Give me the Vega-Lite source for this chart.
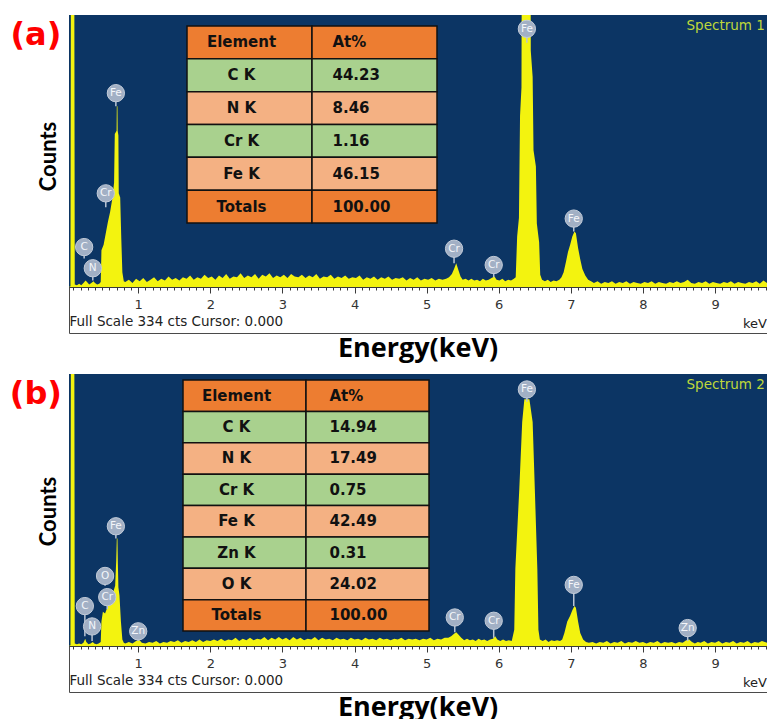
{
  "$schema": "https://vega.github.io/schema/vega-lite/v6.json",
  "padding": {"left": 9, "top": 14, "right": 0, "bottom": 0},
  "background": "white",
  "config": {
    "view": {"stroke": "#4a4a4a", "strokeWidth": 1, "fill": "white"},
    "concat": {"spacing": 10}
  },
  "datasets": {
    "spectrum1": [
      {"keV":0.04,"counts":0},{"keV":0.06,"counts":1},{"keV":0.07,"counts":600},{"keV":0.11,"counts":600},{"keV":0.12,"counts":3},
      {"keV":0.15,"counts":2},{"keV":0.18,"counts":4},{"keV":0.21,"counts":2},{"keV":0.24,"counts":5},{"keV":0.27,"counts":8},
      {"keV":0.29,"counts":6},{"keV":0.32,"counts":3},{"keV":0.35,"counts":5},{"keV":0.38,"counts":7},{"keV":0.40,"counts":5},
      {"keV":0.43,"counts":3},{"keV":0.46,"counts":4},{"keV":0.48,"counts":6},{"keV":0.49,"counts":45},{"keV":0.52,"counts":52},
      {"keV":0.55,"counts":66},{"keV":0.58,"counts":80},{"keV":0.61,"counts":92},{"keV":0.64,"counts":108},{"keV":0.665,"counts":128},
      {"keV":0.675,"counts":188},{"keV":0.70,"counts":192},{"keV":0.703,"counts":222},{"keV":0.712,"counts":222},{"keV":0.715,"counts":192},
      {"keV":0.725,"counts":186},{"keV":0.73,"counts":115},{"keV":0.75,"counts":110},{"keV":0.765,"counts":60},{"keV":0.78,"counts":18},
      {"keV":0.80,"counts":7},
      {"keV":0.82,"counts":6},{"keV":0.87,"counts":9},{"keV":0.92,"counts":5},{"keV":0.97,"counts":10},{"keV":1.02,"counts":7},
      {"keV":1.07,"counts":11},{"keV":1.12,"counts":6},{"keV":1.17,"counts":9},{"keV":1.22,"counts":12},{"keV":1.27,"counts":7},
      {"keV":1.32,"counts":10},{"keV":1.37,"counts":8},{"keV":1.42,"counts":13},{"keV":1.47,"counts":9},{"keV":1.52,"counts":11},
      {"keV":1.57,"counts":8},{"keV":1.62,"counts":12},{"keV":1.67,"counts":10},{"keV":1.72,"counts":14},{"keV":1.77,"counts":9},
      {"keV":1.82,"counts":12},{"keV":1.87,"counts":10},{"keV":1.92,"counts":15},{"keV":1.97,"counts":11},{"keV":2.02,"counts":13},
      {"keV":2.07,"counts":9},{"keV":2.12,"counts":14},{"keV":2.17,"counts":11},{"keV":2.22,"counts":16},{"keV":2.27,"counts":10},
      {"keV":2.32,"counts":13},{"keV":2.37,"counts":12},{"keV":2.42,"counts":17},{"keV":2.47,"counts":11},{"keV":2.52,"counts":14},
      {"keV":2.57,"counts":12},{"keV":2.62,"counts":16},{"keV":2.67,"counts":10},{"keV":2.72,"counts":15},{"keV":2.77,"counts":13},
      {"keV":2.82,"counts":17},{"keV":2.87,"counts":11},{"keV":2.92,"counts":14},{"keV":2.97,"counts":12},{"keV":3.02,"counts":15},
      {"keV":3.07,"counts":11},{"keV":3.12,"counts":16},{"keV":3.17,"counts":13},{"keV":3.22,"counts":12},{"keV":3.27,"counts":15},
      {"keV":3.32,"counts":11},{"keV":3.37,"counts":14},{"keV":3.42,"counts":12},{"keV":3.47,"counts":16},{"keV":3.52,"counts":10},
      {"keV":3.57,"counts":13},{"keV":3.62,"counts":12},{"keV":3.67,"counts":15},{"keV":3.72,"counts":10},{"keV":3.77,"counts":13},
      {"keV":3.82,"counts":11},{"keV":3.87,"counts":14},{"keV":3.92,"counts":10},{"keV":3.97,"counts":12},{"keV":4.02,"counts":11},
      {"keV":4.07,"counts":14},{"keV":4.12,"counts":9},{"keV":4.17,"counts":12},{"keV":4.22,"counts":10},{"keV":4.27,"counts":13},
      {"keV":4.32,"counts":9},{"keV":4.37,"counts":12},{"keV":4.42,"counts":10},{"keV":4.47,"counts":13},{"keV":4.52,"counts":9},
      {"keV":4.57,"counts":11},{"keV":4.62,"counts":10},{"keV":4.67,"counts":12},{"keV":4.72,"counts":8},{"keV":4.77,"counts":11},
      {"keV":4.82,"counts":9},{"keV":4.87,"counts":12},{"keV":4.92,"counts":8},{"keV":4.97,"counts":10},{"keV":5.02,"counts":9},
      {"keV":5.07,"counts":11},{"keV":5.12,"counts":8},{"keV":5.17,"counts":10},{"keV":5.22,"counts":9},
      {"keV":5.27,"counts":10},{"keV":5.31,"counts":12},{"keV":5.35,"counts":16},{"keV":5.38,"counts":22},{"keV":5.41,"counts":29},
      {"keV":5.44,"counts":21},{"keV":5.47,"counts":13},{"keV":5.50,"counts":9},{"keV":5.54,"counts":10},{"keV":5.58,"counts":8},
      {"keV":5.62,"counts":10},{"keV":5.66,"counts":8},{"keV":5.70,"counts":9},{"keV":5.74,"counts":7},{"keV":5.78,"counts":10},
      {"keV":5.82,"counts":8},{"keV":5.86,"counts":9},{"keV":5.90,"counts":11},{"keV":5.94,"counts":13},{"keV":5.97,"counts":9},
      {"keV":6.01,"counts":8},{"keV":6.05,"counts":10},{"keV":6.09,"counts":7},{"keV":6.13,"counts":9},{"keV":6.17,"counts":8},
      {"keV":6.21,"counts":10},{"keV":6.235,"counts":12},{"keV":6.255,"counts":62},{"keV":6.28,"counts":85},{"keV":6.295,"counts":210},
      {"keV":6.315,"counts":245},{"keV":6.327,"counts":700},{"keV":6.35,"counts":1000},{"keV":6.43,"counts":1000},{"keV":6.444,"counts":290},
      {"keV":6.47,"counts":258},{"keV":6.482,"counts":168},{"keV":6.515,"counts":148},{"keV":6.528,"counts":78},{"keV":6.56,"counts":55},
      {"keV":6.575,"counts":15},
      {"keV":6.60,"counts":9},{"keV":6.64,"counts":7},{"keV":6.68,"counts":9},{"keV":6.72,"counts":6},{"keV":6.76,"counts":8},
      {"keV":6.80,"counts":7},{"keV":6.84,"counts":9},
      {"keV":6.87,"counts":12},{"keV":6.90,"counts":18},{"keV":6.93,"counts":30},{"keV":6.96,"counts":43},{"keV":6.99,"counts":52},
      {"keV":7.02,"counts":62},{"keV":7.05,"counts":68},{"keV":7.07,"counts":66},{"keV":7.10,"counts":48},{"keV":7.13,"counts":34},
      {"keV":7.16,"counts":22},{"keV":7.20,"counts":14},{"keV":7.24,"counts":9},{"keV":7.28,"counts":7},
      {"keV":7.32,"counts":5},{"keV":7.37,"counts":7},{"keV":7.42,"counts":4},{"keV":7.47,"counts":6},{"keV":7.52,"counts":5},
      {"keV":7.57,"counts":7},{"keV":7.62,"counts":4},{"keV":7.67,"counts":6},{"keV":7.72,"counts":5},{"keV":7.77,"counts":7},
      {"keV":7.82,"counts":4},{"keV":7.87,"counts":6},{"keV":7.92,"counts":5},{"keV":7.97,"counts":4},{"keV":8.02,"counts":6},
      {"keV":8.07,"counts":5},{"keV":8.12,"counts":7},{"keV":8.17,"counts":4},{"keV":8.22,"counts":6},{"keV":8.27,"counts":5},
      {"keV":8.32,"counts":4},{"keV":8.37,"counts":6},{"keV":8.42,"counts":5},{"keV":8.47,"counts":7},{"keV":8.52,"counts":5},
      {"keV":8.57,"counts":6},{"keV":8.62,"counts":9},{"keV":8.67,"counts":5},{"keV":8.72,"counts":4},{"keV":8.77,"counts":6},
      {"keV":8.82,"counts":5},{"keV":8.87,"counts":7},{"keV":8.92,"counts":4},{"keV":8.97,"counts":6},{"keV":9.02,"counts":5},
      {"keV":9.07,"counts":4},{"keV":9.12,"counts":6},{"keV":9.17,"counts":5},{"keV":9.22,"counts":7},{"keV":9.27,"counts":4},
      {"keV":9.32,"counts":6},{"keV":9.37,"counts":5},{"keV":9.42,"counts":4},{"keV":9.47,"counts":6},{"keV":9.52,"counts":5},
      {"keV":9.57,"counts":7},{"keV":9.62,"counts":4},{"keV":9.67,"counts":8},{"keV":9.72,"counts":5}
    ],
    "spectrum2": [
      {"keV":0.04,"counts":0},{"keV":0.06,"counts":1},{"keV":0.07,"counts":600},{"keV":0.11,"counts":600},{"keV":0.12,"counts":3},
      {"keV":0.15,"counts":2},{"keV":0.18,"counts":3},{"keV":0.21,"counts":2},{"keV":0.24,"counts":4},{"keV":0.265,"counts":9},
      {"keV":0.28,"counts":5},{"keV":0.31,"counts":2},{"keV":0.34,"counts":3},{"keV":0.37,"counts":5},{"keV":0.39,"counts":3},
      {"keV":0.42,"counts":2},{"keV":0.45,"counts":3},{"keV":0.48,"counts":5},{"keV":0.49,"counts":30},{"keV":0.51,"counts":42},
      {"keV":0.54,"counts":40},{"keV":0.57,"counts":47},{"keV":0.60,"counts":55},{"keV":0.63,"counts":60},{"keV":0.66,"counts":68},
      {"keV":0.68,"counts":74},{"keV":0.695,"counts":105},{"keV":0.703,"counts":132},{"keV":0.712,"counts":132},{"keV":0.718,"counts":100},
      {"keV":0.725,"counts":72},{"keV":0.74,"counts":62},{"keV":0.76,"counts":30},{"keV":0.78,"counts":8},{"keV":0.80,"counts":4},
      {"keV":0.82,"counts":3},{"keV":0.87,"counts":5},{"keV":0.92,"counts":3},{"keV":0.97,"counts":6},{"keV":1.01,"counts":8},
      {"keV":1.05,"counts":4},{"keV":1.10,"counts":3},{"keV":1.15,"counts":5},{"keV":1.20,"counts":4},{"keV":1.25,"counts":6},
      {"keV":1.30,"counts":3},{"keV":1.35,"counts":5},{"keV":1.40,"counts":4},{"keV":1.45,"counts":6},{"keV":1.50,"counts":5},
      {"keV":1.55,"counts":7},{"keV":1.60,"counts":4},{"keV":1.65,"counts":6},{"keV":1.70,"counts":5},{"keV":1.75,"counts":7},
      {"keV":1.80,"counts":5},{"keV":1.85,"counts":8},{"keV":1.90,"counts":5},{"keV":1.95,"counts":7},{"keV":2.00,"counts":6},
      {"keV":2.05,"counts":8},{"keV":2.10,"counts":6},{"keV":2.15,"counts":9},{"keV":2.20,"counts":6},{"keV":2.25,"counts":8},
      {"keV":2.30,"counts":7},{"keV":2.35,"counts":10},{"keV":2.40,"counts":6},{"keV":2.45,"counts":9},{"keV":2.50,"counts":7},
      {"keV":2.55,"counts":10},{"keV":2.60,"counts":7},{"keV":2.65,"counts":9},{"keV":2.70,"counts":8},{"keV":2.75,"counts":11},
      {"keV":2.80,"counts":7},{"keV":2.85,"counts":10},{"keV":2.90,"counts":8},{"keV":2.95,"counts":11},{"keV":3.00,"counts":8},
      {"keV":3.05,"counts":10},{"keV":3.10,"counts":7},{"keV":3.15,"counts":11},{"keV":3.20,"counts":8},{"keV":3.25,"counts":10},
      {"keV":3.30,"counts":7},{"keV":3.35,"counts":9},{"keV":3.40,"counts":8},{"keV":3.45,"counts":11},{"keV":3.50,"counts":7},
      {"keV":3.55,"counts":10},{"keV":3.60,"counts":8},{"keV":3.65,"counts":9},{"keV":3.70,"counts":7},{"keV":3.75,"counts":10},
      {"keV":3.80,"counts":8},{"keV":3.85,"counts":9},{"keV":3.90,"counts":7},{"keV":3.95,"counts":10},{"keV":4.00,"counts":8},
      {"keV":4.05,"counts":9},{"keV":4.10,"counts":7},{"keV":4.15,"counts":10},{"keV":4.20,"counts":8},{"keV":4.25,"counts":9},
      {"keV":4.30,"counts":7},{"keV":4.35,"counts":10},{"keV":4.40,"counts":8},{"keV":4.45,"counts":9},{"keV":4.50,"counts":7},
      {"keV":4.55,"counts":9},{"keV":4.60,"counts":8},{"keV":4.65,"counts":10},{"keV":4.70,"counts":7},{"keV":4.75,"counts":9},
      {"keV":4.80,"counts":8},{"keV":4.85,"counts":9},{"keV":4.90,"counts":7},{"keV":4.95,"counts":9},{"keV":5.00,"counts":8},
      {"keV":5.05,"counts":10},{"keV":5.10,"counts":7},{"keV":5.15,"counts":9},{"keV":5.20,"counts":8},{"keV":5.25,"counts":10},
      {"keV":5.30,"counts":10},{"keV":5.34,"counts":12},{"keV":5.38,"counts":15},{"keV":5.41,"counts":17},{"keV":5.44,"counts":14},
      {"keV":5.48,"counts":10},{"keV":5.52,"counts":7},{"keV":5.56,"counts":9},{"keV":5.60,"counts":7},{"keV":5.64,"counts":8},
      {"keV":5.68,"counts":6},{"keV":5.72,"counts":9},{"keV":5.76,"counts":7},{"keV":5.80,"counts":8},{"keV":5.84,"counts":6},
      {"keV":5.88,"counts":8},{"keV":5.92,"counts":9},{"keV":5.95,"counts":12},{"keV":5.98,"counts":8},{"keV":6.02,"counts":6},
      {"keV":6.06,"counts":8},{"keV":6.10,"counts":6},{"keV":6.14,"counts":7},{"keV":6.18,"counts":6},
      {"keV":6.215,"counts":20},{"keV":6.23,"counts":95},{"keV":6.285,"counts":193},{"keV":6.325,"counts":275},{"keV":6.355,"counts":303},
      {"keV":6.425,"counts":303},{"keV":6.47,"counts":275},{"keV":6.5,"counts":193},{"keV":6.535,"counts":95},{"keV":6.55,"counts":20},
      {"keV":6.57,"counts":8},{"keV":6.61,"counts":6},{"keV":6.65,"counts":8},{"keV":6.69,"counts":5},{"keV":6.73,"counts":7},
      {"keV":6.77,"counts":6},{"keV":6.81,"counts":7},{"keV":6.85,"counts":6},
      {"keV":6.88,"counts":8},{"keV":6.91,"counts":16},{"keV":6.95,"counts":30},{"keV":6.99,"counts":37},{"keV":7.02,"counts":44},
      {"keV":7.05,"counts":49},{"keV":7.07,"counts":47},{"keV":7.10,"counts":30},{"keV":7.13,"counts":16},{"keV":7.17,"counts":8},
      {"keV":7.21,"counts":5},
      {"keV":7.25,"counts":4},{"keV":7.30,"counts":5},{"keV":7.35,"counts":3},{"keV":7.40,"counts":5},{"keV":7.45,"counts":4},
      {"keV":7.50,"counts":6},{"keV":7.55,"counts":3},{"keV":7.60,"counts":5},{"keV":7.65,"counts":4},{"keV":7.70,"counts":6},
      {"keV":7.75,"counts":3},{"keV":7.80,"counts":5},{"keV":7.85,"counts":4},{"keV":7.90,"counts":6},{"keV":7.95,"counts":4},
      {"keV":8.00,"counts":5},{"keV":8.05,"counts":3},{"keV":8.10,"counts":5},{"keV":8.15,"counts":4},{"keV":8.20,"counts":6},
      {"keV":8.25,"counts":3},{"keV":8.30,"counts":5},{"keV":8.35,"counts":4},{"keV":8.40,"counts":5},{"keV":8.45,"counts":3},
      {"keV":8.50,"counts":5},{"keV":8.55,"counts":4},{"keV":8.60,"counts":7},{"keV":8.64,"counts":8},{"keV":8.68,"counts":5},
      {"keV":8.72,"counts":3},{"keV":8.76,"counts":5},{"keV":8.80,"counts":4},{"keV":8.85,"counts":6},{"keV":8.90,"counts":3},
      {"keV":8.95,"counts":5},{"keV":9.00,"counts":4},{"keV":9.05,"counts":6},{"keV":9.10,"counts":3},{"keV":9.15,"counts":5},
      {"keV":9.20,"counts":4},{"keV":9.25,"counts":6},{"keV":9.30,"counts":3},{"keV":9.35,"counts":5},{"keV":9.40,"counts":4},
      {"keV":9.45,"counts":6},{"keV":9.50,"counts":3},{"keV":9.55,"counts":5},{"keV":9.60,"counts":4},{"keV":9.65,"counts":6},
      {"keV":9.72,"counts":4}
    ],
    "lines1": [
      {"line":"C","keV":0.25,"counts":49,"tip":35},
      {"line":"N","keV":0.37,"counts":23,"tip":8},
      {"line":"Cr","keV":0.55,"counts":115,"tip":98},
      {"line":"Fe","keV":0.69,"counts":238,"tip":222},
      {"line":"Cr","keV":5.38,"counts":47,"tip":29},
      {"line":"Cr","keV":5.93,"counts":27,"tip":12},
      {"line":"Fe","keV":6.39,"counts":317,"tip":300},
      {"line":"Fe","keV":7.04,"counts":84,"tip":68}
    ],
    "lines2": [
      {"line":"C","keV":0.26,"counts":49,"tip":12},
      {"line":"N","keV":0.36,"counts":24,"tip":6},
      {"line":"O","keV":0.54,"counts":86,"tip":74},
      {"line":"Cr","keV":0.57,"counts":60,"tip":45},
      {"line":"Fe","keV":0.69,"counts":147,"tip":132},
      {"line":"Zn","keV":1.0,"counts":18,"tip":6},
      {"line":"Cr","keV":5.39,"counts":35,"tip":17},
      {"line":"Cr","keV":5.93,"counts":31,"tip":10},
      {"line":"Fe","keV":6.39,"counts":315,"tip":300},
      {"line":"Fe","keV":7.04,"counts":75,"tip":49},
      {"line":"Zn","keV":8.62,"counts":22,"tip":6}
    ],
    "table1": [
      {"element":"Element","at":"At%"},
      {"element":"C K","at":"44.23"},
      {"element":"N K","at":"8.46"},
      {"element":"Cr K","at":"1.16"},
      {"element":"Fe K","at":"46.15"},
      {"element":"Totals","at":"100.00"}
    ],
    "table2": [
      {"element":"Element","at":"At%"},
      {"element":"C K","at":"14.94"},
      {"element":"N K","at":"17.49"},
      {"element":"Cr K","at":"0.75"},
      {"element":"Fe K","at":"42.49"},
      {"element":"Zn K","at":"0.31"},
      {"element":"O K","at":"24.02"},
      {"element":"Totals","at":"100.00"}
    ]
  },
  "vconcat": [
    {
      "width": 698,
      "height": 318,
      "title": {"text": "Energy(keV)", "orient": "bottom", "anchor": "middle", "frame": "group", "font": "Open Sans", "fontSize": 27, "fontWeight": "bold", "color": "black", "offset": 3},
      "resolve": {"scale": {"x": "independent", "y": "independent"}},
      "layer": [
        {
          "data": {"values": [{"band": "spectrum"}]},
          "mark": {"type": "rect", "color": "#0c3564"},
          "encoding": {
            "x": {"datum": 0.04, "type": "quantitative", "axis": null, "scale": {"domain": [0.04, 9.72], "nice": false, "zero": false}},
            "x2": {"datum": 9.72},
            "y": {"datum": 0, "type": "quantitative", "axis": null, "scale": {"domain": [-56.5, 334], "nice": false, "zero": false}},
            "y2": {"datum": 334}
          }
        },
        {
          "data": {"name": "spectrum1"},
          "mark": {"type": "area", "color": "#f3f30f", "clip": true},
          "encoding": {
            "x": {
              "field": "keV", "type": "quantitative",
              "scale": {"domain": [0.04, 9.72], "nice": false, "zero": false},
              "axis": {
                "orient": "bottom", "offset": -46, "grid": false, "zindex": 2,
                "values": [0.1,0.2,0.3,0.4,0.5,0.6,0.7,0.8,0.9,1,1.1,1.2,1.3,1.4,1.5,1.6,1.7,1.8,1.9,2,2.1,2.2,2.3,2.4,2.5,2.6,2.7,2.8,2.9,3,3.1,3.2,3.3,3.4,3.5,3.6,3.7,3.8,3.9,4,4.1,4.2,4.3,4.4,4.5,4.6,4.7,4.8,4.9,5,5.1,5.2,5.3,5.4,5.5,5.6,5.7,5.8,5.9,6,6.1,6.2,6.3,6.4,6.5,6.6,6.7,6.8,6.9,7,7.1,7.2,7.3,7.4,7.5,7.6,7.7,7.8,7.9,8,8.1,8.2,8.3,8.4,8.5,8.6,8.7,8.8,8.9,9,9.1,9.2,9.3,9.4,9.5,9.6,9.7],
                "tickSize": {"condition": {"test": "datum.value % 1 === 0", "value": 6}, "value": 3},
                "tickColor": "#3a3a3a", "tickWidth": 1,
                "domain": true, "domainColor": "#3a3a3a",
                "labelExpr": "datum.value % 1 === 0 ? '' + datum.value : ''",
                "labelFont": "DejaVu Sans", "labelFontSize": 13, "labelColor": "#333333", "labelPadding": 5,
                "labelOverlap": false, "labelFlush": false, "labelBound": false,
                "title": "Full Scale 334 cts Cursor: 0.000", "titleAnchor": "start",
                "titleFont": "DejaVu Sans", "titleFontSize": 13.5, "titleFontWeight": "normal", "titleColor": "#222222", "titlePadding": 3
              }
            },
            "y": {
              "field": "counts", "type": "quantitative",
              "scale": {"domain": [-56.5, 334], "nice": false, "zero": false},
              "axis": {
                "orient": "left", "title": "Counts", "domain": false, "ticks": false, "labels": false, "grid": false,
                "titleFont": "Lato", "titleFontSize": 22, "titleFontWeight": "bold", "titleColor": "black",
                "titlePadding": 9, "titleY": 141
              }
            },
            "y2": {"datum": 0}
          }
        },
        {
          "data": {"name": "lines1"},
          "mark": {"type": "rule", "color": "#b9c4d4", "strokeWidth": 1.5},
          "encoding": {
            "x": {"field": "keV", "type": "quantitative", "axis": null, "scale": {"domain": [0.04, 9.72], "nice": false, "zero": false}},
            "y": {"field": "counts", "type": "quantitative", "axis": null, "scale": {"domain": [-56.5, 334], "nice": false, "zero": false}},
            "y2": {"field": "tip"}
          }
        },
        {
          "data": {"name": "lines1"},
          "mark": {"type": "point", "shape": "circle", "filled": true, "size": 300, "color": "#a2b0c5", "opacity": 1, "stroke": "#c3ccd9", "strokeWidth": 1},
          "encoding": {
            "x": {"field": "keV", "type": "quantitative", "axis": null, "scale": {"domain": [0.04, 9.72], "nice": false, "zero": false}},
            "y": {"field": "counts", "type": "quantitative", "axis": null, "scale": {"domain": [-56.5, 334], "nice": false, "zero": false}}
          }
        },
        {
          "data": {"name": "lines1"},
          "mark": {"type": "text", "font": "DejaVu Sans", "fontSize": 10.5, "color": "#f4f6fa", "align": "center", "baseline": "middle"},
          "encoding": {
            "x": {"field": "keV", "type": "quantitative", "axis": null, "scale": {"domain": [0.04, 9.72], "nice": false, "zero": false}},
            "y": {"field": "counts", "type": "quantitative", "axis": null, "scale": {"domain": [-56.5, 334], "nice": false, "zero": false}},
            "text": {"field": "line"}
          }
        },
        {
          "data": {"values": [{"tag": "(a)"}]},
          "mark": {"type": "text", "font": "DejaVu Sans", "fontWeight": "bold", "fontSize": 32, "color": "#ff0000", "align": "center", "baseline": "middle"},
          "encoding": {
            "x": {"datum": -0.42, "type": "quantitative", "axis": null, "scale": {"domain": [0.04, 9.72], "nice": false, "zero": false}},
            "y": {"datum": 309, "type": "quantitative", "axis": null, "scale": {"domain": [-56.5, 334], "nice": false, "zero": false}},
            "text": {"field": "tag"}
          }
        },
        {
          "data": {"values": [{"tag": "Spectrum 1"}]},
          "mark": {"type": "text", "font": "DejaVu Sans", "fontSize": 13.5, "color": "#bfd83a", "align": "right", "baseline": "middle"},
          "encoding": {
            "x": {"datum": 9.69, "type": "quantitative", "axis": null, "scale": {"domain": [0.04, 9.72], "nice": false, "zero": false}},
            "y": {"datum": 320, "type": "quantitative", "axis": null, "scale": {"domain": [-56.5, 334], "nice": false, "zero": false}},
            "text": {"field": "tag"}
          }
        },
        {
          "data": {"values": [{"tag": "keV"}]},
          "mark": {"type": "text", "font": "DejaVu Sans", "fontSize": 13, "color": "#222222", "align": "right", "baseline": "middle"},
          "encoding": {
            "x": {"datum": 9.72, "type": "quantitative", "axis": null, "scale": {"domain": [0.04, 9.72], "nice": false, "zero": false}},
            "y": {"datum": -45, "type": "quantitative", "axis": null, "scale": {"domain": [-56.5, 334], "nice": false, "zero": false}},
            "text": {"field": "tag"}
          }
        },
        {
          "data": {"name": "table1"},
          "mark": {"type": "rect", "stroke": "#111111", "strokeWidth": 1.5},
          "encoding": {
            "x": {"datum": "Element", "type": "nominal", "axis": null,
                  "scale": {"type": "band", "domain": ["Element", "At%"], "range": [118, 368], "paddingInner": 0, "paddingOuter": 0}},
            "y": {"field": "element", "type": "nominal", "axis": null,
                  "scale": {"type": "band", "domain": ["Element", "C K", "N K", "Cr K", "Fe K", "Totals"], "range": [11, 208], "paddingInner": 0, "paddingOuter": 0}},
            "color": {"field": "element", "type": "nominal", "legend": null,
                      "scale": {"domain": ["Element", "C K", "N K", "Cr K", "Fe K", "Zn K", "O K", "Totals"], "range": ["#ed7d31", "#a9d18e", "#f4b183", "#a9d18e", "#f4b183", "#a9d18e", "#f4b183", "#ed7d31"]}}
          }
        },
        {
          "data": {"name": "table1"},
          "mark": {"type": "rect", "stroke": "#111111", "strokeWidth": 1.5},
          "encoding": {
            "x": {"datum": "At%", "type": "nominal", "axis": null,
                  "scale": {"type": "band", "domain": ["Element", "At%"], "range": [118, 368], "paddingInner": 0, "paddingOuter": 0}},
            "y": {"field": "element", "type": "nominal", "axis": null,
                  "scale": {"type": "band", "domain": ["Element", "C K", "N K", "Cr K", "Fe K", "Totals"], "range": [11, 208], "paddingInner": 0, "paddingOuter": 0}},
            "color": {"field": "element", "type": "nominal", "legend": null}
          }
        },
        {
          "data": {"name": "table1"},
          "mark": {"type": "text", "font": "DejaVu Sans", "fontWeight": "bold", "fontSize": 15, "color": "#111111", "align": "center", "baseline": "middle", "dx": -8},
          "encoding": {
            "x": {"datum": "Element", "type": "nominal", "axis": null,
                  "scale": {"type": "band", "domain": ["Element", "At%"], "range": [118, 368], "paddingInner": 0, "paddingOuter": 0}},
            "y": {"field": "element", "type": "nominal", "axis": null,
                  "scale": {"type": "band", "domain": ["Element", "C K", "N K", "Cr K", "Fe K", "Totals"], "range": [11, 208], "paddingInner": 0, "paddingOuter": 0}},
            "text": {"field": "element"}
          }
        },
        {
          "data": {"name": "table1"},
          "mark": {"type": "text", "font": "DejaVu Sans", "fontWeight": "bold", "fontSize": 15, "color": "#111111", "align": "left", "baseline": "middle", "dx": -42},
          "encoding": {
            "x": {"datum": "At%", "type": "nominal", "axis": null,
                  "scale": {"type": "band", "domain": ["Element", "At%"], "range": [118, 368], "paddingInner": 0, "paddingOuter": 0}},
            "y": {"field": "element", "type": "nominal", "axis": null,
                  "scale": {"type": "band", "domain": ["Element", "C K", "N K", "Cr K", "Fe K", "Totals"], "range": [11, 208], "paddingInner": 0, "paddingOuter": 0}},
            "text": {"field": "at"}
          }
        }
      ]
    },
    {
      "width": 698,
      "height": 318,
      "title": {"text": "Energy(keV)", "orient": "bottom", "anchor": "middle", "frame": "group", "font": "Open Sans", "fontSize": 27, "fontWeight": "bold", "color": "black", "offset": 3},
      "resolve": {"scale": {"x": "independent", "y": "independent"}},
      "layer": [
        {
          "data": {"values": [{"band": "spectrum"}]},
          "mark": {"type": "rect", "color": "#0c3564"},
          "encoding": {
            "x": {"datum": 0.04, "type": "quantitative", "axis": null, "scale": {"domain": [0.04, 9.72], "nice": false, "zero": false}},
            "x2": {"datum": 9.72},
            "y": {"datum": 0, "type": "quantitative", "axis": null, "scale": {"domain": [-56.5, 334], "nice": false, "zero": false}},
            "y2": {"datum": 334}
          }
        },
        {
          "data": {"name": "spectrum2"},
          "mark": {"type": "area", "color": "#f3f30f", "clip": true},
          "encoding": {
            "x": {
              "field": "keV", "type": "quantitative",
              "scale": {"domain": [0.04, 9.72], "nice": false, "zero": false},
              "axis": {
                "orient": "bottom", "offset": -46, "grid": false, "zindex": 2,
                "values": [0.1,0.2,0.3,0.4,0.5,0.6,0.7,0.8,0.9,1,1.1,1.2,1.3,1.4,1.5,1.6,1.7,1.8,1.9,2,2.1,2.2,2.3,2.4,2.5,2.6,2.7,2.8,2.9,3,3.1,3.2,3.3,3.4,3.5,3.6,3.7,3.8,3.9,4,4.1,4.2,4.3,4.4,4.5,4.6,4.7,4.8,4.9,5,5.1,5.2,5.3,5.4,5.5,5.6,5.7,5.8,5.9,6,6.1,6.2,6.3,6.4,6.5,6.6,6.7,6.8,6.9,7,7.1,7.2,7.3,7.4,7.5,7.6,7.7,7.8,7.9,8,8.1,8.2,8.3,8.4,8.5,8.6,8.7,8.8,8.9,9,9.1,9.2,9.3,9.4,9.5,9.6,9.7],
                "tickSize": {"condition": {"test": "datum.value % 1 === 0", "value": 6}, "value": 3},
                "tickColor": "#3a3a3a", "tickWidth": 1,
                "domain": true, "domainColor": "#3a3a3a",
                "labelExpr": "datum.value % 1 === 0 ? '' + datum.value : ''",
                "labelFont": "DejaVu Sans", "labelFontSize": 13, "labelColor": "#333333", "labelPadding": 5,
                "labelOverlap": false, "labelFlush": false, "labelBound": false,
                "title": "Full Scale 334 cts Cursor: 0.000", "titleAnchor": "start",
                "titleFont": "DejaVu Sans", "titleFontSize": 13.5, "titleFontWeight": "normal", "titleColor": "#222222", "titlePadding": 3
              }
            },
            "y": {
              "field": "counts", "type": "quantitative",
              "scale": {"domain": [-56.5, 334], "nice": false, "zero": false},
              "axis": {
                "orient": "left", "title": "Counts", "domain": false, "ticks": false, "labels": false, "grid": false,
                "titleFont": "Lato", "titleFontSize": 22, "titleFontWeight": "bold", "titleColor": "black",
                "titlePadding": 9, "titleY": 137
              }
            },
            "y2": {"datum": 0}
          }
        },
        {
          "data": {"name": "lines2"},
          "mark": {"type": "rule", "color": "#b9c4d4", "strokeWidth": 1.5},
          "encoding": {
            "x": {"field": "keV", "type": "quantitative", "axis": null, "scale": {"domain": [0.04, 9.72], "nice": false, "zero": false}},
            "y": {"field": "counts", "type": "quantitative", "axis": null, "scale": {"domain": [-56.5, 334], "nice": false, "zero": false}},
            "y2": {"field": "tip"}
          }
        },
        {
          "data": {"name": "lines2"},
          "mark": {"type": "point", "shape": "circle", "filled": true, "size": 300, "color": "#a2b0c5", "opacity": 1, "stroke": "#c3ccd9", "strokeWidth": 1},
          "encoding": {
            "x": {"field": "keV", "type": "quantitative", "axis": null, "scale": {"domain": [0.04, 9.72], "nice": false, "zero": false}},
            "y": {"field": "counts", "type": "quantitative", "axis": null, "scale": {"domain": [-56.5, 334], "nice": false, "zero": false}}
          }
        },
        {
          "data": {"name": "lines2"},
          "mark": {"type": "text", "font": "DejaVu Sans", "fontSize": 10.5, "color": "#f4f6fa", "align": "center", "baseline": "middle"},
          "encoding": {
            "x": {"field": "keV", "type": "quantitative", "axis": null, "scale": {"domain": [0.04, 9.72], "nice": false, "zero": false}},
            "y": {"field": "counts", "type": "quantitative", "axis": null, "scale": {"domain": [-56.5, 334], "nice": false, "zero": false}},
            "text": {"field": "line"}
          }
        },
        {
          "data": {"values": [{"tag": "(b)"}]},
          "mark": {"type": "text", "font": "DejaVu Sans", "fontWeight": "bold", "fontSize": 32, "color": "#ff0000", "align": "center", "baseline": "middle"},
          "encoding": {
            "x": {"datum": -0.42, "type": "quantitative", "axis": null, "scale": {"domain": [0.04, 9.72], "nice": false, "zero": false}},
            "y": {"datum": 309, "type": "quantitative", "axis": null, "scale": {"domain": [-56.5, 334], "nice": false, "zero": false}},
            "text": {"field": "tag"}
          }
        },
        {
          "data": {"values": [{"tag": "Spectrum 2"}]},
          "mark": {"type": "text", "font": "DejaVu Sans", "fontSize": 13.5, "color": "#bfd83a", "align": "right", "baseline": "middle"},
          "encoding": {
            "x": {"datum": 9.69, "type": "quantitative", "axis": null, "scale": {"domain": [0.04, 9.72], "nice": false, "zero": false}},
            "y": {"datum": 320, "type": "quantitative", "axis": null, "scale": {"domain": [-56.5, 334], "nice": false, "zero": false}},
            "text": {"field": "tag"}
          }
        },
        {
          "data": {"values": [{"tag": "keV"}]},
          "mark": {"type": "text", "font": "DejaVu Sans", "fontSize": 13, "color": "#222222", "align": "right", "baseline": "middle"},
          "encoding": {
            "x": {"datum": 9.72, "type": "quantitative", "axis": null, "scale": {"domain": [0.04, 9.72], "nice": false, "zero": false}},
            "y": {"datum": -45, "type": "quantitative", "axis": null, "scale": {"domain": [-56.5, 334], "nice": false, "zero": false}},
            "text": {"field": "tag"}
          }
        },
        {
          "data": {"name": "table2"},
          "mark": {"type": "rect", "stroke": "#111111", "strokeWidth": 1.5},
          "encoding": {
            "x": {"datum": "Element", "type": "nominal", "axis": null,
                  "scale": {"type": "band", "domain": ["Element", "At%"], "range": [114, 360], "paddingInner": 0, "paddingOuter": 0}},
            "y": {"field": "element", "type": "nominal", "axis": null,
                  "scale": {"type": "band", "domain": ["Element", "C K", "N K", "Cr K", "Fe K", "Zn K", "O K", "Totals"], "range": [6, 257], "paddingInner": 0, "paddingOuter": 0}},
            "color": {"field": "element", "type": "nominal", "legend": null,
                      "scale": {"domain": ["Element", "C K", "N K", "Cr K", "Fe K", "Zn K", "O K", "Totals"], "range": ["#ed7d31", "#a9d18e", "#f4b183", "#a9d18e", "#f4b183", "#a9d18e", "#f4b183", "#ed7d31"]}}
          }
        },
        {
          "data": {"name": "table2"},
          "mark": {"type": "rect", "stroke": "#111111", "strokeWidth": 1.5},
          "encoding": {
            "x": {"datum": "At%", "type": "nominal", "axis": null,
                  "scale": {"type": "band", "domain": ["Element", "At%"], "range": [114, 360], "paddingInner": 0, "paddingOuter": 0}},
            "y": {"field": "element", "type": "nominal", "axis": null,
                  "scale": {"type": "band", "domain": ["Element", "C K", "N K", "Cr K", "Fe K", "Zn K", "O K", "Totals"], "range": [6, 257], "paddingInner": 0, "paddingOuter": 0}},
            "color": {"field": "element", "type": "nominal", "legend": null}
          }
        },
        {
          "data": {"name": "table2"},
          "mark": {"type": "text", "font": "DejaVu Sans", "fontWeight": "bold", "fontSize": 15, "color": "#111111", "align": "center", "baseline": "middle", "dx": -8},
          "encoding": {
            "x": {"datum": "Element", "type": "nominal", "axis": null,
                  "scale": {"type": "band", "domain": ["Element", "At%"], "range": [114, 360], "paddingInner": 0, "paddingOuter": 0}},
            "y": {"field": "element", "type": "nominal", "axis": null,
                  "scale": {"type": "band", "domain": ["Element", "C K", "N K", "Cr K", "Fe K", "Zn K", "O K", "Totals"], "range": [6, 257], "paddingInner": 0, "paddingOuter": 0}},
            "text": {"field": "element"}
          }
        },
        {
          "data": {"name": "table2"},
          "mark": {"type": "text", "font": "DejaVu Sans", "fontWeight": "bold", "fontSize": 15, "color": "#111111", "align": "left", "baseline": "middle", "dx": -38},
          "encoding": {
            "x": {"datum": "At%", "type": "nominal", "axis": null,
                  "scale": {"type": "band", "domain": ["Element", "At%"], "range": [114, 360], "paddingInner": 0, "paddingOuter": 0}},
            "y": {"field": "element", "type": "nominal", "axis": null,
                  "scale": {"type": "band", "domain": ["Element", "C K", "N K", "Cr K", "Fe K", "Zn K", "O K", "Totals"], "range": [6, 257], "paddingInner": 0, "paddingOuter": 0}},
            "text": {"field": "at"}
          }
        }
      ]
    }
  ]
}
